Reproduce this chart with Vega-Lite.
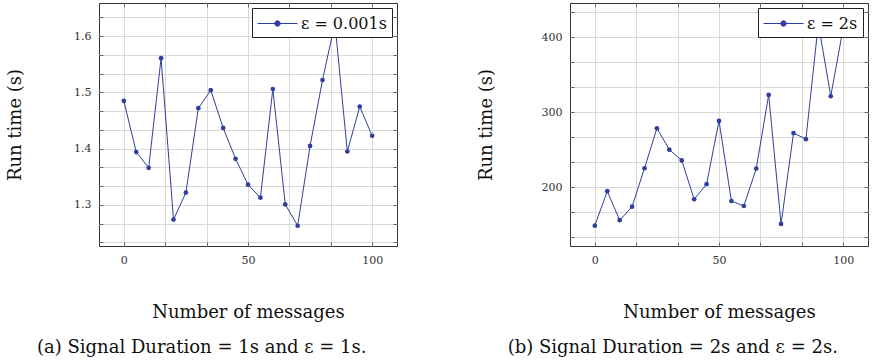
{
  "$schema": "https://vega.github.io/schema/vega-lite/v6.json",
  "padding": {"left": 5, "top": 2, "right": 0, "bottom": 0},
  "datasets": {
    "a": [
      {"n": 0, "t": 1.485, "s": "ε = 0.001s"},
      {"n": 5, "t": 1.394, "s": "ε = 0.001s"},
      {"n": 10, "t": 1.366, "s": "ε = 0.001s"},
      {"n": 15, "t": 1.561, "s": "ε = 0.001s"},
      {"n": 20, "t": 1.274, "s": "ε = 0.001s"},
      {"n": 25, "t": 1.322, "s": "ε = 0.001s"},
      {"n": 30, "t": 1.472, "s": "ε = 0.001s"},
      {"n": 35, "t": 1.504, "s": "ε = 0.001s"},
      {"n": 40, "t": 1.437, "s": "ε = 0.001s"},
      {"n": 45, "t": 1.382, "s": "ε = 0.001s"},
      {"n": 50, "t": 1.336, "s": "ε = 0.001s"},
      {"n": 55, "t": 1.313, "s": "ε = 0.001s"},
      {"n": 60, "t": 1.506, "s": "ε = 0.001s"},
      {"n": 65, "t": 1.301, "s": "ε = 0.001s"},
      {"n": 70, "t": 1.263, "s": "ε = 0.001s"},
      {"n": 75, "t": 1.405, "s": "ε = 0.001s"},
      {"n": 80, "t": 1.522, "s": "ε = 0.001s"},
      {"n": 85, "t": 1.623, "s": "ε = 0.001s"},
      {"n": 90, "t": 1.395, "s": "ε = 0.001s"},
      {"n": 95, "t": 1.475, "s": "ε = 0.001s"},
      {"n": 100, "t": 1.423, "s": "ε = 0.001s"}
    ],
    "b": [
      {"n": 0, "t": 148.6, "s": "ε = 2s"},
      {"n": 5, "t": 194.6, "s": "ε = 2s"},
      {"n": 10, "t": 155.9, "s": "ε = 2s"},
      {"n": 15, "t": 173.9, "s": "ε = 2s"},
      {"n": 20, "t": 225.2, "s": "ε = 2s"},
      {"n": 25, "t": 278.4, "s": "ε = 2s"},
      {"n": 30, "t": 250.0, "s": "ε = 2s"},
      {"n": 35, "t": 235.6, "s": "ε = 2s"},
      {"n": 40, "t": 183.8, "s": "ε = 2s"},
      {"n": 45, "t": 204.0, "s": "ε = 2s"},
      {"n": 50, "t": 288.3, "s": "ε = 2s"},
      {"n": 55, "t": 181.5, "s": "ε = 2s"},
      {"n": 60, "t": 174.8, "s": "ε = 2s"},
      {"n": 65, "t": 224.8, "s": "ε = 2s"},
      {"n": 70, "t": 323.0, "s": "ε = 2s"},
      {"n": 75, "t": 150.9, "s": "ε = 2s"},
      {"n": 80, "t": 272.1, "s": "ε = 2s"},
      {"n": 85, "t": 264.0, "s": "ε = 2s"},
      {"n": 90, "t": 418.0, "s": "ε = 2s"},
      {"n": 95, "t": 321.2, "s": "ε = 2s"},
      {"n": 100, "t": 412.0, "s": "ε = 2s"}
    ]
  },
  "config": {
    "font": "DejaVu Serif",
    "view": {"stroke": "#333333", "strokeWidth": 1},
    "axis": {
      "domain": false,
      "grid": true,
      "gridColor": "#d9d9d9",
      "gridWidth": 1,
      "ticks": true,
      "tickSize": -4,
      "tickColor": "#666666",
      "labelFont": "DejaVu Serif",
      "labelFontSize": 11,
      "labelColor": "#333333",
      "labelOverlap": false,
      "titleFont": "DejaVu Serif",
      "titleFontSize": 18,
      "titleFontWeight": "normal",
      "titleColor": "#111111"
    },
    "axisX": {"labelPadding": 12, "minExtent": 20, "maxExtent": 20, "titlePadding": 37},
    "axisY": {"labelPadding": 12, "minExtent": 30, "maxExtent": 30, "titlePadding": 45},
    "title": {"font": "DejaVu Serif", "fontSize": 18, "fontWeight": "normal", "orient": "bottom", "frame": "bounds", "offset": 18, "color": "#111111"},
    "legend": {
      "title": null,
      "orient": "top-right",
      "offset": 5,
      "strokeColor": "#222222",
      "fillColor": "white",
      "padding": 5,
      "symbolType": "M-1,0L3,0M0.73,0A0.27,0.27,0,1,0,1.27,0A0.27,0.27,0,1,0,0.73,0Z",
      "symbolSize": 400,
      "labelFont": "DejaVu Serif",
      "labelFontSize": 16,
      "labelColor": "#111111",
      "labelOffset": 23
    }
  },
  "spacing": 78,
  "resolve": {"scale": {"color": "independent"}, "legend": {"color": "independent"}},
  "hconcat": [
    {
      "width": 298,
      "height": 243,
      "title": {"text": "(a) Signal Duration = 1s and ε = 1s."},
      "data": {"name": "a"},
      "resolve": {"axis": {"x": "independent", "y": "independent"}},
      "layer": [
        {
          "mark": {"type": "line", "strokeWidth": 1, "point": {"filled": true, "size": 22}},
          "encoding": {
            "x": {
              "field": "n", "type": "quantitative",
              "scale": {"domain": [-10, 110], "nice": false, "zero": false},
              "axis": {"title": "Number of messages", "values": [0, 16.66667, 33.33333, 50, 66.66667, 83.33333, 100],
                "labelExpr": "abs(datum.value/50 - round(datum.value/50)) < 0.001 ? format(datum.value, 'd') : ''"}
            },
            "y": {
              "field": "t", "type": "quantitative",
              "scale": {"domain": [1.227, 1.659], "nice": false, "zero": false},
              "axis": {"title": "Run time (s)",
                "values": [1.23333, 1.26667, 1.3, 1.33333, 1.36667, 1.4, 1.43333, 1.46667, 1.5, 1.53333, 1.56667, 1.6, 1.63333],
                "labelExpr": "abs(datum.value*10 - round(datum.value*10)) < 0.001 ? format(datum.value, '.1f') : ''"}
            },
            "color": {
              "field": "s", "type": "nominal",
              "scale": {"range": ["#2f3f9f"]},
              "legend": {"encode": {"symbols": {"update": {"fill": {"value": "#2f3f9f"}, "stroke": {"value": "#2f3f9f"}, "strokeWidth": {"value": 1}, "opacity": {"value": 1}}}}}
            }
          }
        },
        {
          "mark": {"type": "point", "opacity": 0},
          "encoding": {
            "x": {"field": "n", "type": "quantitative",
              "axis": {"orient": "top", "title": null, "labels": false, "grid": false, "minExtent": 0, "maxExtent": 0,
                "values": [0, 16.66667, 33.33333, 50, 66.66667, 83.33333, 100]}},
            "y": {"field": "t", "type": "quantitative",
              "axis": {"orient": "right", "title": null, "labels": false, "grid": false, "minExtent": 0, "maxExtent": 0,
                "values": [1.23333, 1.26667, 1.3, 1.33333, 1.36667, 1.4, 1.43333, 1.46667, 1.5, 1.53333, 1.56667, 1.6, 1.63333]}}
          }
        }
      ]
    },
    {
      "width": 298,
      "height": 243,
      "title": {"text": "(b) Signal Duration = 2s and ε = 2s."},
      "data": {"name": "b"},
      "resolve": {"axis": {"x": "independent", "y": "independent"}},
      "layer": [
        {
          "mark": {"type": "line", "strokeWidth": 1, "point": {"filled": true, "size": 22}},
          "encoding": {
            "x": {
              "field": "n", "type": "quantitative",
              "scale": {"domain": [-10, 110], "nice": false, "zero": false},
              "axis": {"title": "Number of messages", "values": [0, 16.66667, 33.33333, 50, 66.66667, 83.33333, 100],
                "labelExpr": "abs(datum.value/50 - round(datum.value/50)) < 0.001 ? format(datum.value, 'd') : ''"}
            },
            "y": {
              "field": "t", "type": "quantitative",
              "scale": {"domain": [121.5, 445.5], "nice": false, "zero": false},
              "axis": {"title": "Run time (s)",
                "values": [133.333, 166.667, 200, 233.333, 266.667, 300, 333.333, 366.667, 400, 433.333],
                "labelExpr": "abs(datum.value/100 - round(datum.value/100)) < 0.001 ? format(datum.value, 'd') : ''"}
            },
            "color": {
              "field": "s", "type": "nominal",
              "scale": {"range": ["#2f3f9f"]},
              "legend": {"encode": {"symbols": {"update": {"fill": {"value": "#2f3f9f"}, "stroke": {"value": "#2f3f9f"}, "strokeWidth": {"value": 1}, "opacity": {"value": 1}}}}}
            }
          }
        },
        {
          "mark": {"type": "point", "opacity": 0},
          "encoding": {
            "x": {"field": "n", "type": "quantitative",
              "axis": {"orient": "top", "title": null, "labels": false, "grid": false, "minExtent": 0, "maxExtent": 0,
                "values": [0, 16.66667, 33.33333, 50, 66.66667, 83.33333, 100]}},
            "y": {"field": "t", "type": "quantitative",
              "axis": {"orient": "right", "title": null, "labels": false, "grid": false, "minExtent": 0, "maxExtent": 0,
                "values": [133.333, 166.667, 200, 233.333, 266.667, 300, 333.333, 366.667, 400, 433.333]}}
          }
        }
      ]
    }
  ]
}
